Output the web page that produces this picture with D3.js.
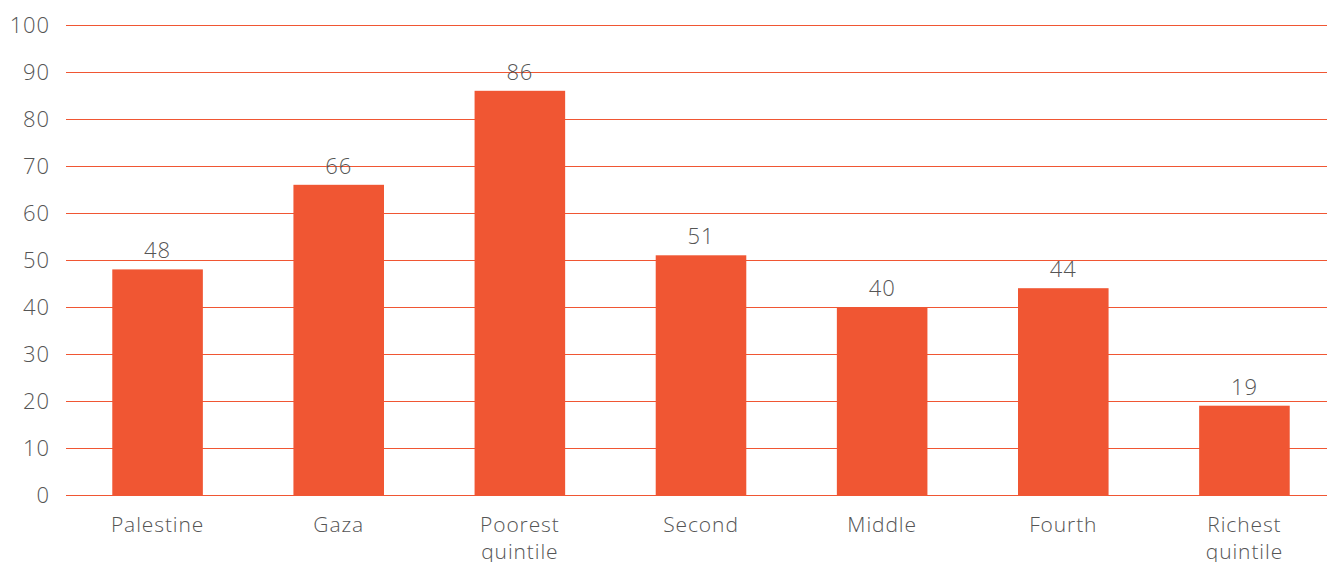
<!DOCTYPE html>
<html>
<head>
<meta charset="utf-8">
<script src="https://cdn.jsdelivr.net/npm/d3@7/dist/d3.min.js"></script>
<style>
  html, body { margin: 0; padding: 0; background: #fff; }
  svg { display: block; }
  text { font-family: "Open Sans", "Liberation Sans", Arial, sans-serif; font-weight: 300; fill: #555; letter-spacing: 0.9px; }
</style>
</head>
<body>
<svg id="chart" width="1327" height="562"></svg>
<script>
// Categories (multi-line labels split on "\n") and their values
const categories = ["Palestine", "Gaza", "Poorest\nquintile", "Second", "Middle", "Fourth", "Richest\nquintile"];
const values = [48, 66, 86, 51, 40, 44, 19];
const yTicks = [0, 10, 20, 30, 40, 50, 60, 70, 80, 90, 100];

const accent = "#f05633";
const fontFamily = "'Open Sans', 'Liberation Sans', Arial, sans-serif";
const svg = d3.select("#chart");

const x = d3.scaleBand()
  .domain(categories)
  .range([67, 1335])
  .paddingInner(0.5)
  .paddingOuter(0.25);

const y = d3.scaleLinear()
  .domain([0, 100])
  .range([495, 25]);

// Horizontal gridlines with tick labels on the left
const yAxis = svg.append("g")
  .attr("transform", "translate(66,0)")
  .call(d3.axisLeft(y).tickValues(yTicks).tickSize(-1300).tickPadding(16));
yAxis.select(".domain").remove();
yAxis.selectAll(".tick line").attr("stroke", accent).attr("stroke-width", 1.2);
yAxis.selectAll(".tick text")
  .attr("font-size", 22)
  .attr("fill", "#555")
  .style("font-family", fontFamily)
  .style("font-weight", 300);

// Bars
svg.append("g").selectAll("rect")
  .data(values)
  .join("rect")
  .attr("x", (d, i) => x(categories[i]))
  .attr("width", x.bandwidth())
  .attr("y", d => y(d))
  .attr("height", d => y(0) - y(d))
  .attr("fill", accent);

// Value labels above bars
svg.append("g").selectAll("text")
  .data(values)
  .join("text")
  .attr("x", (d, i) => x(categories[i]) + x.bandwidth() / 2)
  .attr("y", d => y(d) - 11)
  .attr("text-anchor", "middle")
  .attr("font-size", 22)
  .text(d => d);

// Category labels below the axis, one text per line
const labelLines = [];
categories.forEach(c => c.split("\n").forEach((line, i) => labelLines.push({ c, line, i })));
svg.append("g").selectAll("text")
  .data(labelLines)
  .join("text")
  .attr("x", d => x(d.c) + x.bandwidth() / 2)
  .attr("y", d => 532 + d.i * 27)
  .attr("text-anchor", "middle")
  .attr("font-size", 21)
  .text(d => d.line);
</script>
</body>
</html>
